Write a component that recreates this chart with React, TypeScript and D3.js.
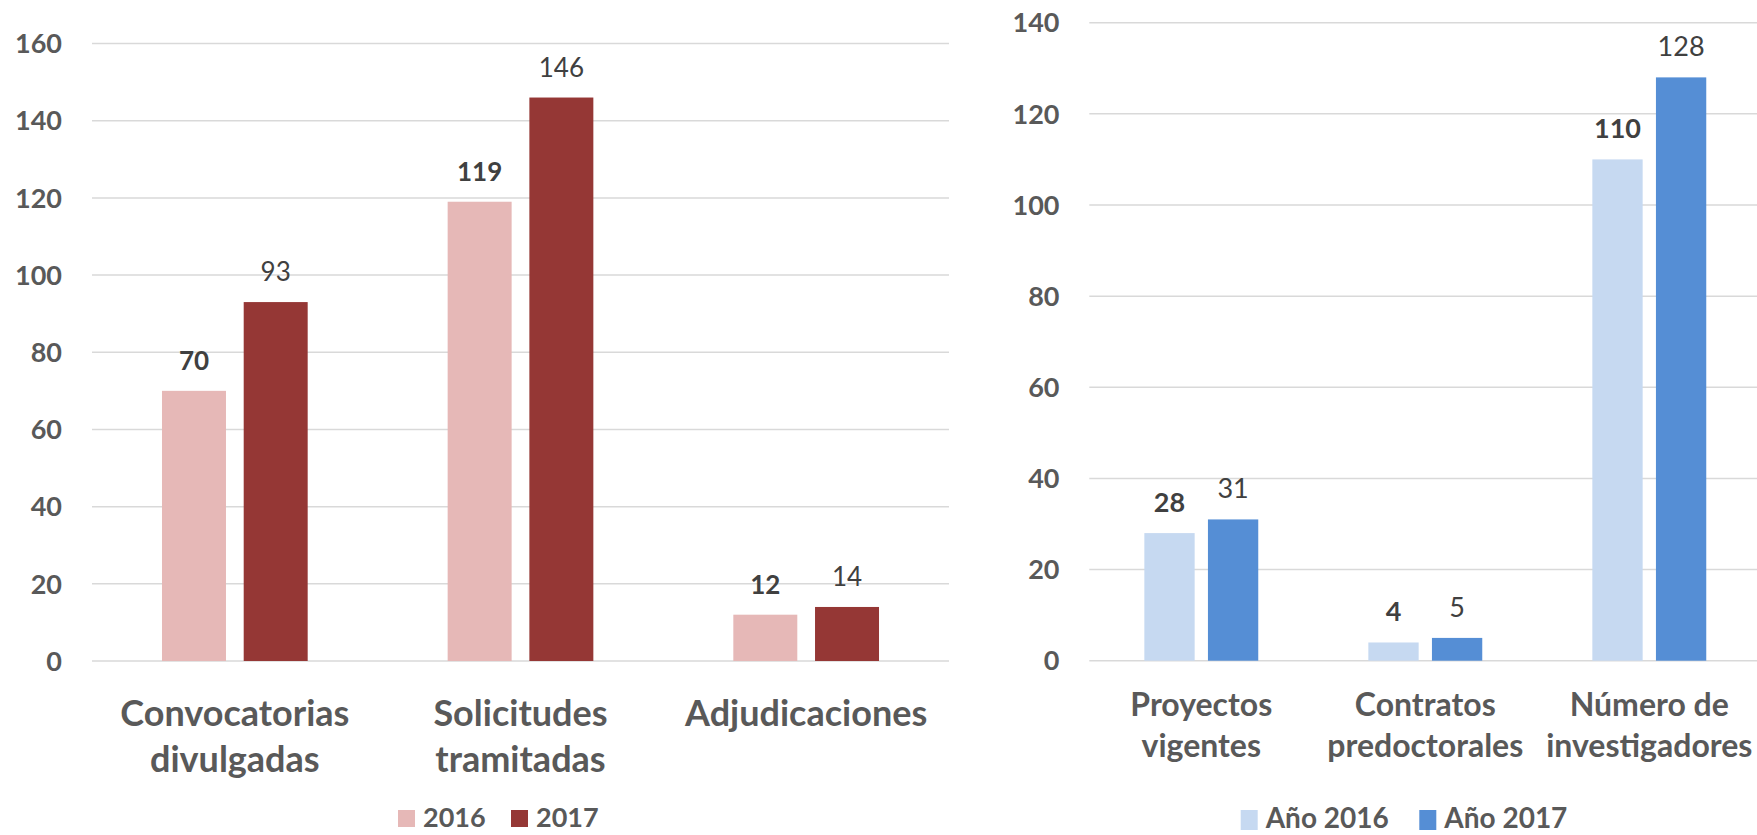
import { useEffect, useRef } from 'react';
import * as d3 from 'd3';

const WIDTH = 1757;
const HEIGHT = 835;
const FONT = "Lato, 'Open Sans', sans-serif";
const AXIS_GREY = '#595959';
const LABEL_DARK = '#404040';
const GRID = '#D9D9D9';

// left panel: convocatorias
const leftCategories = ['Convocatorias\ndivulgadas', 'Solicitudes\ntramitadas', 'Adjudicaciones'];
const leftSeries = ['2016', '2017'];
const left2016 = [70, 119, 12];
const left2017 = [93, 146, 14];
const leftTicks = [0, 20, 40, 60, 80, 100, 120, 140, 160];
const leftColors = ['#E6B8B7', '#953735'];

// right panel: proyectos / investigadores
const rightCategories = ['Proyectos\nvigentes', 'Contratos\npredoctorales', 'Número de\ninvestigadores'];
const rightSeries = ['Año 2016', 'Año 2017'];
const right2016 = [28, 4, 110];
const right2017 = [31, 5, 128];
const rightTicks = [0, 20, 40, 60, 80, 100, 120, 140];
const rightColors = ['#C6D9F1', '#558ED5'];

type Panel = {
  categories: string[];
  series: string[];
  values: number[][];
  ticks: number[];
  colors: string[];
  x0: number;
  x1: number;
  gridX0: number;
  gridX1: number;
  yBottom: number;
  yTop: number;
  groupPad: number;
  barPad: number;
  tickX: number;
  tickSize: number;
  valueSize: number;
  catSize: number;
  catBaseline: number;
  catLineHeight: number;
  legendX: number;
  legendStep: number;
  legendBaseline: number;
  legendSize: number;
  swatchW: number;
  swatchH: number;
  swatchTop: number;
};

function drawPanel(svg: d3.Selection<SVGSVGElement, unknown, null, undefined>, p: Panel) {
  const g = svg.append('g');
  const y = d3.scaleLinear().domain([0, p.ticks[p.ticks.length - 1]]).range([p.yBottom, p.yTop]);
  const x = d3.scaleBand<string>().domain(p.categories).range([p.x0, p.x1])
    .paddingInner(p.groupPad).paddingOuter(p.groupPad / 2);
  const xs = d3.scaleBand<string>().domain(p.series).range([0, x.bandwidth()]).paddingInner(p.barPad);

  // gridlines
  g.selectAll('line.grid')
    .data(p.ticks)
    .join('line')
    .attr('x1', p.gridX0)
    .attr('x2', p.gridX1)
    .attr('y1', (d) => y(d))
    .attr('y2', (d) => y(d))
    .attr('stroke', GRID)
    .attr('stroke-width', 1.5);

  // y tick labels
  g.selectAll('text.tick')
    .data(p.ticks)
    .join('text')
    .attr('x', p.tickX)
    .attr('y', (d) => y(d))
    .attr('dy', '0.36em')
    .attr('text-anchor', 'end')
    .attr('font-family', FONT)
    .attr('font-weight', 700)
    .attr('font-size', p.tickSize)
    .attr('fill', AXIS_GREY)
    .text((d) => d);

  // bars + value labels
  p.series.forEach((s, si) => {
    const rows = p.categories.map((c, ci) => ({ c, v: p.values[si][ci] }));
    g.selectAll(`rect.s${si}`)
      .data(rows)
      .join('rect')
      .attr('x', (d) => (x(d.c) as number) + (xs(s) as number))
      .attr('y', (d) => y(d.v))
      .attr('width', xs.bandwidth())
      .attr('height', (d) => y(0) - y(d.v))
      .attr('fill', p.colors[si]);

    g.selectAll(`text.v${si}`)
      .data(rows)
      .join('text')
      .attr('x', (d) => (x(d.c) as number) + (xs(s) as number) + xs.bandwidth() / 2)
      .attr('y', (d) => y(d.v) - 21)
      .attr('text-anchor', 'middle')
      .attr('font-family', FONT)
      .attr('font-weight', si === 0 ? 700 : 400)
      .attr('font-size', p.valueSize)
      .attr('fill', LABEL_DARK)
      .text((d) => d.v);
  });

  // category labels
  p.categories.forEach((c) => {
    const t = g.append('text')
      .attr('text-anchor', 'middle')
      .attr('font-family', FONT)
      .attr('font-weight', 700)
      .attr('font-size', p.catSize)
      .attr('fill', AXIS_GREY);
    c.split('\n').forEach((line, i) => {
      t.append('tspan')
        .attr('x', (x(c) as number) + x.bandwidth() / 2)
        .attr('y', p.catBaseline + i * p.catLineHeight)
        .text(line);
    });
  });

  // legend
  const lg = g.selectAll('g.legend')
    .data(p.series)
    .join('g')
    .attr('transform', (_, i) => `translate(${p.legendX + i * p.legendStep},0)`);
  lg.append('rect')
    .attr('x', 0)
    .attr('y', p.swatchTop)
    .attr('width', p.swatchW)
    .attr('height', p.swatchH)
    .attr('fill', (_, i) => p.colors[i]);
  lg.append('text')
    .attr('x', p.swatchW + 8)
    .attr('y', p.legendBaseline)
    .attr('font-family', FONT)
    .attr('font-weight', 700)
    .attr('font-size', p.legendSize)
    .attr('fill', AXIS_GREY)
    .text((d) => d);
}

export default function App() {
  const svgRef = useRef<SVGSVGElement>(null);

  useEffect(() => {
    const svg = d3.select(svgRef.current as SVGSVGElement);
    svg.selectAll('*').remove();

    drawPanel(svg, {
      categories: leftCategories,
      series: leftSeries,
      values: [left2016, left2017],
      ticks: leftTicks,
      colors: leftColors,
      x0: 92,
      x1: 949,
      gridX0: 92,
      gridX1: 949,
      yBottom: 661,
      yTop: 43.5,
      groupPad: 0.49,
      barPad: 0.217,
      tickX: 62,
      tickSize: 27,
      valueSize: 26,
      catSize: 36,
      catBaseline: 726,
      catLineHeight: 46,
      legendX: 398,
      legendStep: 113,
      legendBaseline: 827,
      legendSize: 27,
      swatchW: 17,
      swatchH: 17,
      swatchTop: 810,
    });

    drawPanel(svg, {
      categories: rightCategories,
      series: rightSeries,
      values: [right2016, right2017],
      ticks: rightTicks,
      colors: rightColors,
      x0: 1089.3,
      x1: 1761.3,
      gridX0: 1089.3,
      gridX1: 1757,
      yBottom: 660.7,
      yTop: 22.7,
      groupPad: 0.4915,
      barPad: 0.209,
      tickX: 1059.5,
      tickSize: 27,
      valueSize: 27,
      catSize: 32,
      catBaseline: 716,
      catLineHeight: 41,
      legendX: 1240.7,
      legendStep: 178.6,
      legendBaseline: 828,
      legendSize: 28,
      swatchW: 17,
      swatchH: 20,
      swatchTop: 810,
    });
  }, []);

  return (
    <svg
      ref={svgRef}
      width={WIDTH}
      height={HEIGHT}
      style={{ position: 'absolute', left: 0, top: 0, display: 'block', background: '#fff' }}
    />
  );
}
